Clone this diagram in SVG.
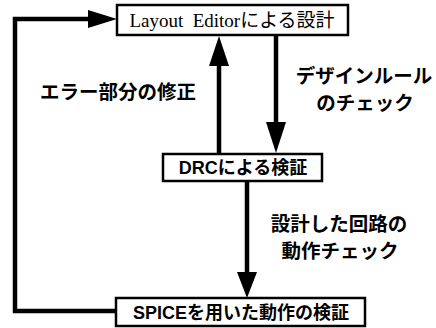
<svg xmlns="http://www.w3.org/2000/svg" width="436" height="328" viewBox="0 0 436 328">
<style>
.box{fill:#fff;stroke:#000;stroke-width:2.5}
.ln{fill:none;stroke:#000;stroke-width:4.5}
.hd{fill:#000}
.t{font-family:"Liberation Sans","Noto Sans CJK JP",sans-serif;font-weight:bold;font-size:18px;fill:#000;text-anchor:middle}
.lb{font-family:"Liberation Sans","Noto Sans CJK JP",sans-serif;font-weight:bold;font-size:19.5px;fill:#000;text-anchor:middle}
.ts{font-family:"Liberation Serif","Noto Sans CJK JP",serif;font-size:19px;fill:#000;text-anchor:middle}
</style>
<rect width="436" height="328" fill="#fff"/>
<g id="connectors">
<path class="ln" d="M116,311 H15 V19 H92"/>
<polygon class="hd" points="88,10 117,19 88,28"/>
<path class="ln" d="M219,153 V62"/>
<polygon class="hd" points="209,66 219,36 229,66"/>
<path class="ln" d="M276,36 V125"/>
<polygon class="hd" points="266,122 276,153 286,122"/>
<path class="ln" d="M247,181 V275"/>
<polygon class="hd" points="237,272 247,298 257,272"/>
</g>
<g id="layout">
<rect class="box" x="117" y="5" width="231" height="30"/>
<text class="ts" x="232" y="27" xml:space="preserve">Layout  Editorによる設計</text>
</g>
<g id="drc">
<rect class="box" x="163" y="154" width="159" height="27"/>
<text class="t" x="243" y="174">DRCによる検証</text>
</g>
<g id="spice">
<rect class="box" x="116" y="298" width="249" height="28"/>
<text class="t" x="241" y="319">SPICEを用いた動作の検証</text>
</g>
<g id="labels">
<text class="lb" x="118" y="99">エラー部分の修正</text>
<text class="lb" x="364" y="83">デザインルール</text>
<text class="lb" x="365" y="110">のチェック</text>
<text class="lb" x="339" y="231">設計した回路の</text>
<text class="lb" x="340" y="258">動作チェック</text>
</g>
</svg>
